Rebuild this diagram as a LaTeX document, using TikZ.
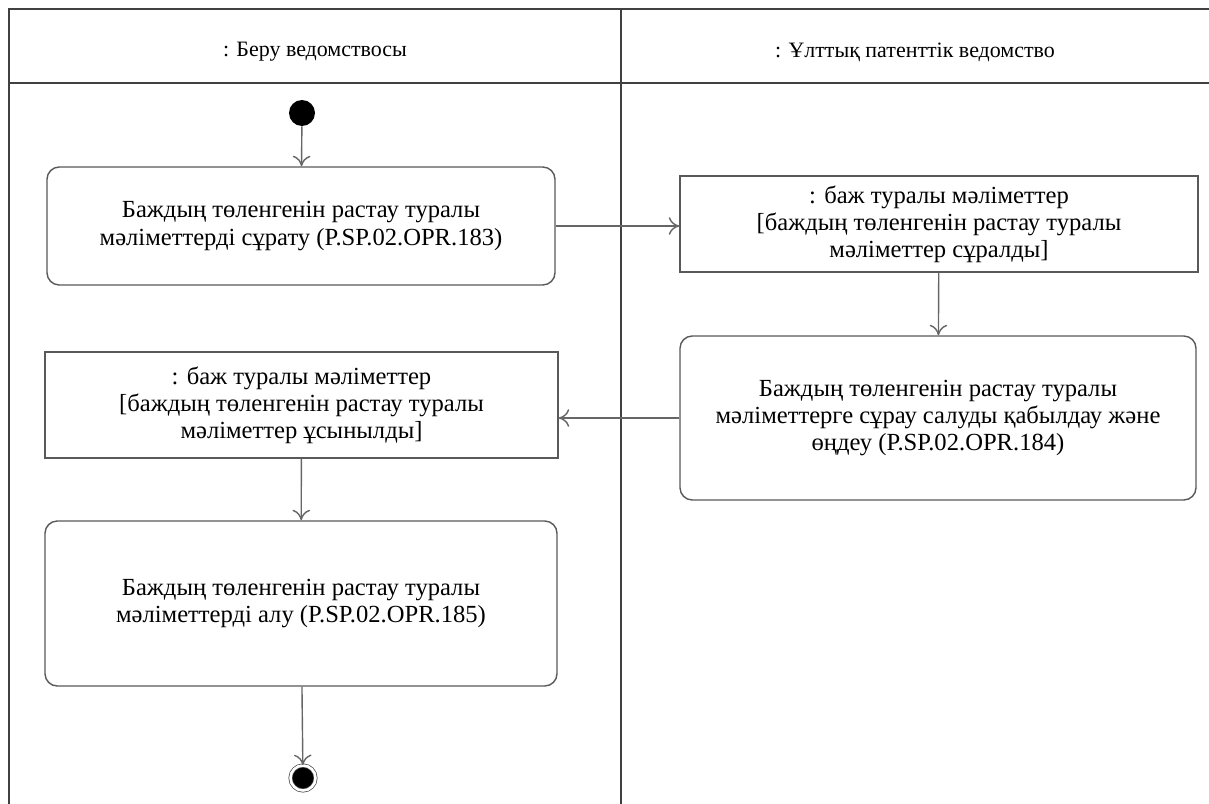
\documentclass[tikz,border=0pt]{standalone}
\usepackage{fontspec}
\setmainfont{Liberation Serif}
\usetikzlibrary{positioning,arrows.meta}
\begin{document}
\begin{tikzpicture}[
    font=\fontsize{14}{15.4}\selectfont,
    lane/.style={draw=black!75,line width=1pt},
    act/.style={rectangle,rounded corners=7pt,draw=black!65,thick,align=center,fill=white},
    obj/.style={rectangle,draw=black!65,thick,align=center,fill=white},
    flow/.style={draw=black!60,thick,-{To[length=6pt,width=10pt]}},
    initst/.style={circle,fill=black,inner sep=0pt,minimum size=0.52cm},
    finalst/.style={circle,fill=black,draw=black!70,double=white,double distance=1.5pt,inner sep=0pt,minimum size=0.5cm}
]
    \useasboundingbox (0,0) rectangle (24.18,-16.08);
    % swimlanes
    \draw[lane] (24.18,-0.18) -- (0.18,-0.18) -- (0.18,-16.08);
    \draw[lane] (0.18,-1.66) -- (24.18,-1.66);
    \draw[lane] (12.42,-0.18) -- (12.42,-16.08);
    \node[font=\fontsize{12.5}{14}\selectfont] (laneA) at (6.3,-1.04) {: Беру ведомствосы};
    \node[font=\fontsize{12.5}{14}\selectfont] (laneB) at (18.3,-1.04) {: Ұлттық патенттік ведомство};

    \node[initst] (start) at (6.04,-2.26) {};
    \node[act,minimum width=10.16cm,minimum height=2.36cm] (req) at (6.02,-4.52)
        {Баждың төленгенін растау туралы\\мәліметтерді сұрату (P.SP.02.OPR.183)};
    \node[obj,minimum width=10.36cm,minimum height=1.92cm] (asked) at (18.78,-4.48)
        {: баж туралы мәліметтер\\{[}баждың төленгенін растау туралы\\мәліметтер сұралды{]}};
    \node[act,minimum width=10.32cm,minimum height=3.28cm] (proc) at (18.76,-8.36)
        {Баждың төленгенін растау туралы\\мәліметтерге сұрау салуды қабылдау және\\өңдеу (P.SP.02.OPR.184)};
    \node[obj,minimum width=10.26cm,minimum height=2.12cm] (given) at (6.03,-8.10)
        {: баж туралы мәліметтер\\{[}баждың төленгенін растау туралы\\мәліметтер ұсынылды{]}};
    \node[act,minimum width=10.24cm,minimum height=3.30cm] (recv) at (6.02,-12.07)
        {Баждың төленгенін растау туралы\\мәліметтерді алу (P.SP.02.OPR.185)};
    \node[finalst] (stop) at (6.06,-15.56) {};

    \draw[flow] (start) -- (req);
    \draw[flow] (req.east) -- (req.east -| asked.west);
    \draw[flow] (asked) -- (proc);
    \draw[flow] (proc.west) -- (proc.west -| given.east);
    \draw[flow] (given) -- (recv);
    \draw[flow] (recv) -- (stop);
\end{tikzpicture}
\end{document}
